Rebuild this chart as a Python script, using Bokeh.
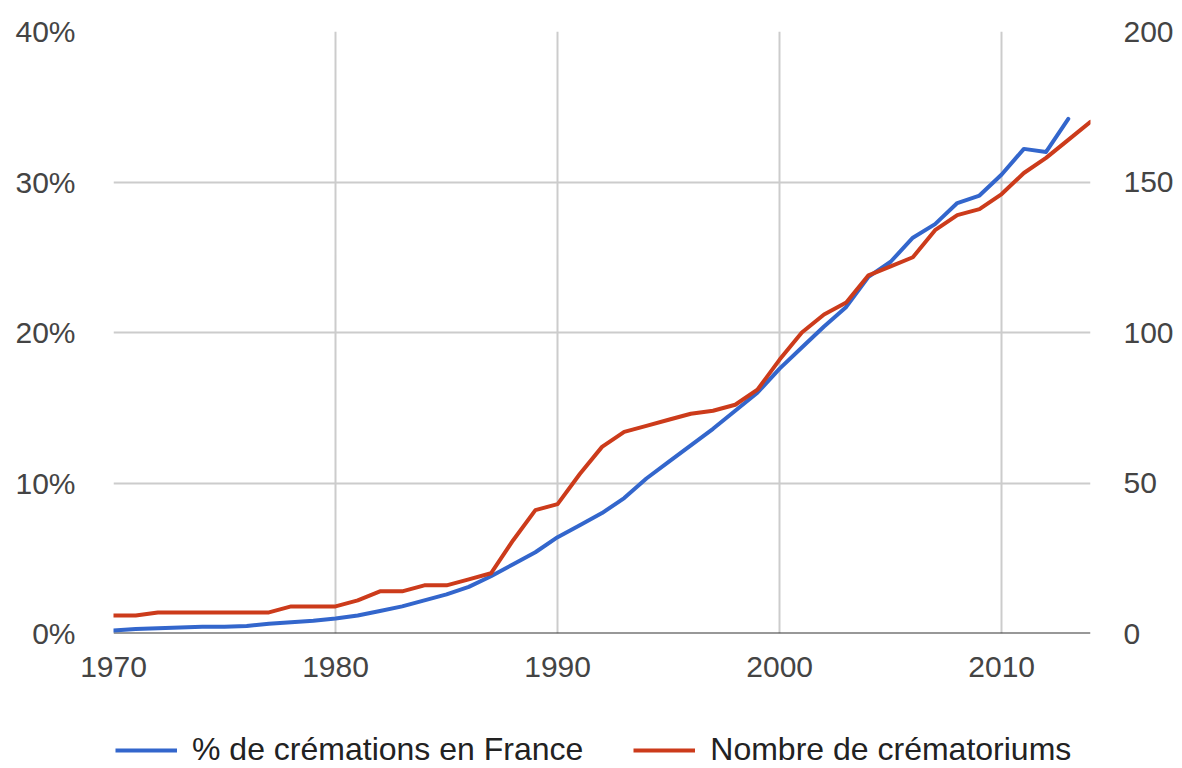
from bokeh.plotting import figure
from bokeh.layouts import column
from bokeh.models import Range1d, LinearAxis, FixedTicker, PrintfTickFormatter, Legend, LegendItem
from bokeh.embed import file_html
from bokeh.resources import INLINE

years = list(range(1970, 2015))
# % de crémations en France (1970-2013)
pct_cremation = [0.2, 0.3, 0.35, 0.4, 0.45, 0.45, 0.5, 0.65, 0.75, 0.85,
                 1.0, 1.2, 1.5, 1.8, 2.2, 2.6, 3.1, 3.8, 4.6, 5.4,
                 6.4, 7.2, 8.0, 9.0, 10.3, 11.4, 12.5, 13.6, 14.8, 16.0,
                 17.6, 19.0, 20.4, 21.7, 23.7, 24.7, 26.3, 27.2, 28.6, 29.1,
                 30.5, 32.2, 32.0, 34.2]
# Nombre de crématoriums (1970-2014)
nb_crematoriums = [6, 6, 7, 7, 7, 7, 7, 7, 9, 9,
                   9, 11, 14, 14, 16, 16, 18, 20, 31, 41,
                   43, 53, 62, 67, 69, 71, 73, 74, 76, 81,
                   91, 100, 106, 110, 119, 122, 125, 134, 139, 141,
                   146, 153, 158, 164, 170]
series_names = ["% de crémations en France", "Nombre de crématoriums"]

left_ticks = [0, 10, 20, 30, 40]
right_ticks = [0, 50, 100, 150, 200]
x_ticks = [1970, 1980, 1990, 2000, 2010]

FONT = "Liberation Sans"
TXT = "#444444"
BLUE = "#3366cc"
RED = "#cc3b1b"

p = figure(frame_width=977, frame_height=602, output_backend="svg", toolbar_location=None,
           x_range=Range1d(1970, 2014), y_range=Range1d(0, 40),
           min_border_left=113, min_border_right=84, min_border_top=31,
           min_border_bottom=55, y_axis_location=None, x_axis_location=None)
p.extra_y_ranges = {"n": Range1d(0, 200)}
p.outline_line_color = None
p.background_fill_color = "white"
p.border_fill_color = "white"

xa = LinearAxis(ticker=FixedTicker(ticks=x_ticks))
ya = LinearAxis(ticker=FixedTicker(ticks=left_ticks), formatter=PrintfTickFormatter(format="%d%%"))
ra = LinearAxis(y_range_name="n", ticker=FixedTicker(ticks=right_ticks))
for ax in (xa, ya, ra):
    ax.major_label_text_font = FONT
    ax.major_label_text_font_size = "30px"
    ax.major_label_text_color = TXT
    ax.major_tick_line_color = None
    ax.minor_tick_line_color = None
    ax.axis_line_color = None
xa.major_label_standoff = 17
ya.major_label_standoff = 32
ra.major_label_standoff = 27
p.add_layout(xa, "below")
p.add_layout(ya, "left")
p.add_layout(ra, "right")

p.xgrid.ticker = FixedTicker(ticks=x_ticks)
p.ygrid.ticker = FixedTicker(ticks=left_ticks)
p.xgrid.grid_line_color = "#cccccc"
p.ygrid.grid_line_color = "#cccccc"
p.xgrid.grid_line_width = 2
p.ygrid.grid_line_width = 2

p.line(x=[years[0], years[-1]], y=[0, 0], line_color="#333333", line_width=2)

p.line(x=years[:len(pct_cremation)], y=pct_cremation, line_color=BLUE, line_width=4,
       line_join="round", line_cap="round")
p.line(x=years, y=nb_crematoriums, line_color=RED, line_width=4, y_range_name="n",
       line_join="round", line_cap="round")

# legend strip (its own small figure; the series lie outside its ranges, only the keys show)
p2 = figure(width=1174, height=80, output_backend="svg", toolbar_location=None,
            x_range=Range1d(0, 1), y_range=Range1d(0, 1), min_border=0,
            min_border_left=113, min_border_right=84,
            x_axis_location=None, y_axis_location=None)
p2.grid.visible = False
p2.outline_line_color = None
p2.border_fill_color = "white"
p2.background_fill_color = "white"
k1 = p2.line(x=years[:len(pct_cremation)], y=pct_cremation, line_color=BLUE, line_width=4)
k2 = p2.line(x=years, y=nb_crematoriums, line_color=RED, line_width=4)
legend = Legend(items=[LegendItem(label=series_names[0], renderers=[k1]),
                       LegendItem(label=series_names[1], renderers=[k2])],
                orientation="horizontal", location=(2, 0),
                label_text_font=FONT, label_text_font_size="32px", label_text_color="#222222",
                glyph_width=62, glyph_height=20, label_standoff=15, spacing=50,
                border_line_color=None, background_fill_alpha=0, margin=0, padding=0)
p2.add_layout(legend, "center")

layout = column(p, p2, spacing=0)
open("out.html", "w").write(file_html(layout, INLINE))
